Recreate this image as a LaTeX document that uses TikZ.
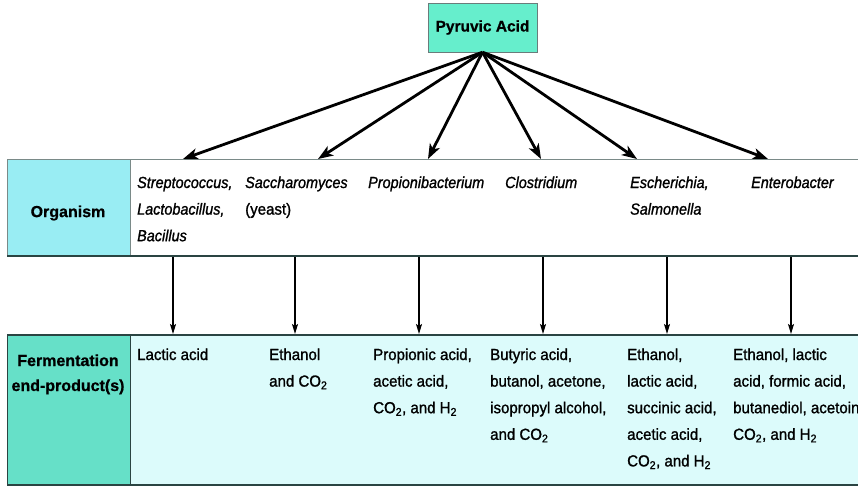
\documentclass[tikz,border=0pt]{standalone}
\usepackage{fontspec}
\setmainfont{Liberation Sans}[FakeStretch=0.94, FakeBold=1.2, ItalicFeatures={FakeStretch=0.90}]
\newfontfamily\headfont{Liberation Sans}[FakeBold=0.8]
\usetikzlibrary{arrows.meta}

\definecolor{pyrfill}{HTML}{66EECC}
\definecolor{orgfill}{HTML}{99EDF3}
\definecolor{fermfill}{HTML}{66E0C8}
\definecolor{prodfill}{HTML}{DCFBFB}
\definecolor{ruledark}{HTML}{2A4442}
\definecolor{rulegray}{HTML}{7A8A88}

% stacked cell text: baseline of the node is the baseline of the first line
\newcommand{\cellstack}[1]{\parbox[t]{140pt}{\raggedright\fontsize{16}{26.6}\selectfont #1}}

\tikzset{
  head/.style={font=\headfont\bfseries\fontsize{16}{25}\selectfont, align=center, inner sep=0pt},
  celltext/.style={anchor=base west, inner sep=0pt},
  fanarrow/.style={line width=2.8pt, -{Stealth[length=15pt,width=11pt,inset=4pt]}},
  droparrow/.style={line width=1.4pt, -{Stealth[length=10pt,width=6pt,inset=2pt]}},
}

\begin{document}
\begin{tikzpicture}[x=1pt,y=-1pt]
\useasboundingbox (0,0) rectangle (858,488);
\clip (0,0) rectangle (858,488);

% organism row
\fill[white] (7,159) rectangle (870,256);
\fill[orgfill] (7,159) rectangle (130,256);
\draw[rulegray, line width=1pt] (7,159) -- (870,159);
\draw[rulegray, line width=1pt] (7,159) -- (7,256) (130,159) -- (130,256);
\draw[ruledark, line width=1.5pt] (7,256) -- (870,256);

% fermentation product row
\fill[prodfill] (7,335) rectangle (870,485);
\fill[fermfill] (7,335) rectangle (130,485);
\draw[ruledark, line width=1pt] (7,335) -- (7,485) (130,335) -- (130,485);
\draw[ruledark, line width=1.5pt] (7,335) -- (870,335);
\draw[ruledark, line width=2.5pt] (7,485) -- (870,485);

% source box
\node[draw=ruledark!70, fill=pyrfill, minimum width=109pt, minimum height=49pt,
      inner sep=0pt, font=\headfont\bfseries\fontsize{15.5}{18}\selectfont]
      (pyr) at (482.5,27.5) {\raisebox{-2pt}{Pyruvic Acid}};

% row headers
\node[head] (orghead) at (68,213) {Organism};
\node[head, anchor=base] (fermhead) at (68,391) {Fermentation\\end-product(s)};

% organisms
\node[celltext] (org1) at (137,188) {\cellstack{\itshape Streptococcus,\\Lactobacillus,\\Bacillus}};
\node[celltext] (org2) at (245,188) {\cellstack{\itshape Saccharomyces\\\upshape(yeast)}};
\node[celltext] (org3) at (368,188) {\cellstack{\itshape Propionibacterium}};
\node[celltext] (org4) at (505,188) {\cellstack{\itshape Clostridium}};
\node[celltext] (org5) at (630,188) {\cellstack{\itshape Escherichia,\\Salmonella}};
\node[celltext] (org6) at (751,188) {\cellstack{\itshape Enterobacter}};

% end products
\node[celltext] (prod1) at (137,360) {\cellstack{Lactic acid}};
\node[celltext] (prod2) at (269,360) {\cellstack{Ethanol\\and CO\textsubscript{2}}};
\node[celltext] (prod3) at (373,360) {\cellstack{Propionic acid,\\acetic acid,\\CO\textsubscript{2}, and H\textsubscript{2}}};
\node[celltext] (prod4) at (490,360) {\cellstack{Butyric acid,\\butanol, acetone,\\isopropyl alcohol,\\and CO\textsubscript{2}}};
\node[celltext] (prod5) at (627,360) {\cellstack{Ethanol,\\lactic acid,\\succinic acid,\\acetic acid,\\CO\textsubscript{2}, and H\textsubscript{2}}};
\node[celltext] (prod6) at (733,360) {\cellstack{Ethanol, lactic\\acid, formic acid,\\butanediol, acetoin\\CO\textsubscript{2}, and H\textsubscript{2}}};

% arrow ends on the organism row's top edge
\coordinate (t1) at (183,159);
\coordinate (t2) at (318,159);
\coordinate (t3) at (428,159);
\coordinate (t4) at (541,159);
\coordinate (t5) at (637,159);
\coordinate (t6) at (768,159);
\foreach \i in {1,...,6} \draw[fanarrow] (pyr.south) -- (t\i);

% arrows from organism row down to product row
\foreach \i/\x in {1/173,2/295,3/419,4/543,5/667,6/791} {
  \coordinate (u\i) at (\x,257);
  \coordinate (d\i) at (\x,334);
  \draw[droparrow] (u\i) -- (d\i);
}
\end{tikzpicture}
\end{document}
